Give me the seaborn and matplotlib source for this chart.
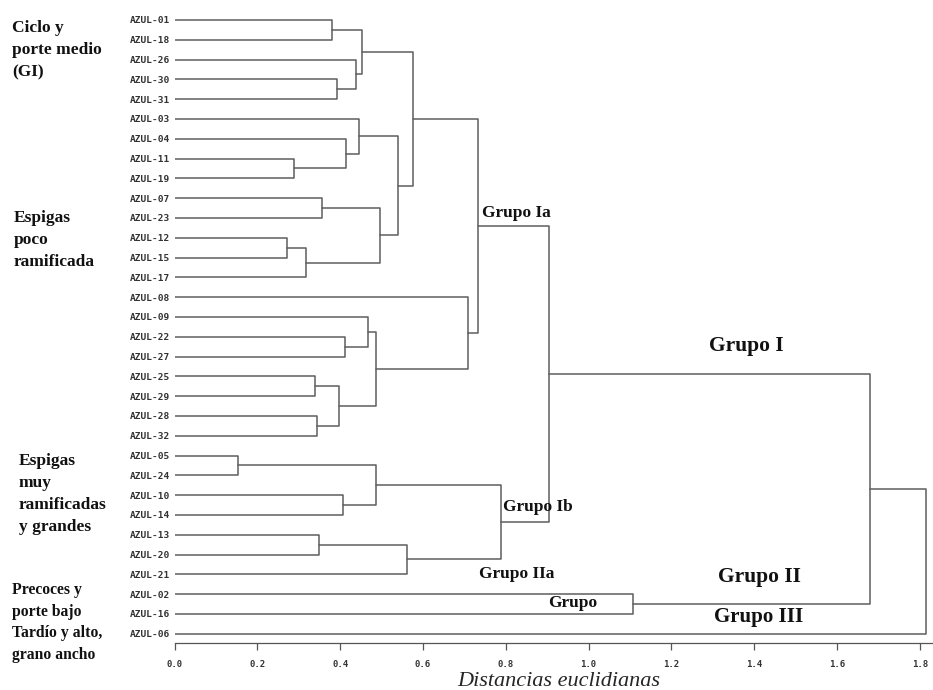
import matplotlib
matplotlib.use("Agg")
import matplotlib.pyplot as plt
import seaborn as sns
import pandas as pd

# ---- data ----
leaf_labels = ["AZUL-01", "AZUL-18", "AZUL-26", "AZUL-30", "AZUL-31", "AZUL-03",
               "AZUL-04", "AZUL-11", "AZUL-19", "AZUL-07", "AZUL-23", "AZUL-12",
               "AZUL-15", "AZUL-17", "AZUL-08", "AZUL-09", "AZUL-22", "AZUL-27",
               "AZUL-25", "AZUL-29", "AZUL-28", "AZUL-32", "AZUL-05", "AZUL-24",
               "AZUL-10", "AZUL-14", "AZUL-13", "AZUL-20", "AZUL-21", "AZUL-02",
               "AZUL-16", "AZUL-06"]
# merges: children ids (0..31 leaves in display order, 32+ = previous merges)
merge_left = [22, 11, 7, 33, 18, 20, 26, 9, 0, 3, 36, 24, 16, 6, 2, 5,
              40, 15, 49, 32, 39, 47, 38, 48, 14, 55, 51, 57, 29, 59, 61]
merge_right = [23, 12, 8, 13, 19, 21, 27, 10, 1, 4, 37, 25, 17, 34, 41, 45,
               46, 44, 42, 43, 35, 52, 28, 53, 50, 56, 54, 58, 30, 60, 31]
merge_height = [0.154, 0.271, 0.289, 0.317, 0.339, 0.345, 0.350, 0.357, 0.380,
                0.392, 0.397, 0.406, 0.412, 0.414, 0.438, 0.446, 0.454, 0.468,
                0.487, 0.487, 0.496, 0.541, 0.562, 0.577, 0.710, 0.734, 0.788,
                0.905, 1.107, 1.680, 1.815]
x_ticks = [0.0, 0.2, 0.4, 0.6, 0.8, 1.0, 1.2, 1.4, 1.6, 1.8]

group_labels = ["Grupo Ia", "Grupo I", "Grupo Ib", "Grupo IIa", "Grupo II", "Grupo", "Grupo III"]
group_x = [0.825, 1.380, 0.878, 0.827, 1.412, 0.963, 1.412]
group_y = [9.75, 16.45, 24.6, 28.0, 28.15, 29.44, 30.15]
group_size = [12.5, 15.5, 12.5, 12.5, 15.5, 12.5, 15]

side_labels = ["Ciclo y\nporte medio\n(GI)", "Espigas\npoco\nramificada",
               "Espigas\nmuy\nramificadas\ny grandes", "Precoces y\nporte bajo",
               "Tardío y alto,\ngrano ancho"]
side_px_x = [12, 14, 19, 12, 12]
side_px_y = [50, 240, 494, 601, 644]
side_size = [12.5, 12.5, 12.5, 11.3, 11.3]
side_spacing = [1.5, 1.5, 1.5, 1.45, 1.45]

# ---- build dendrogram segments ----
n = len(leaf_labels)
node_x = {i: 0.0 for i in range(n)}
node_y = {i: float(i) for i in range(n)}
rows = []
for k, (a, b, h) in enumerate(zip(merge_left, merge_right, merge_height)):
    pts = [(node_x[a], node_y[a]), (h, node_y[a]), (h, node_y[b]), (node_x[b], node_y[b])]
    for j, (px, py) in enumerate(pts):
        rows.append({"seg": k, "order": j, "x": px, "y": py})
    node_x[n + k] = h
    node_y[n + k] = (node_y[a] + node_y[b]) / 2.0
seg_df = pd.DataFrame(rows)

# ---- plot ----
sns.set_style("white")
W, H = 933, 690
fig = plt.figure(figsize=(W / 100, H / 100), dpi=100)
ax_left, ax_right = 174.5, 933
ax_top, ax_bottom = 0.2, 643
ax = fig.add_axes([ax_left / W, 1 - ax_bottom / H, (ax_right - ax_left) / W, (ax_bottom - ax_top) / H])

sns.lineplot(data=seg_df, x="x", y="y", units="seg", estimator=None, sort=False,
             color="#5e5e5e", linewidth=1.1, ax=ax, legend=False)

ax.set_xlim(0, (ax_right - ax_left) / 414.0)
ax.set_ylim(31.47, -1.0)
ax.set_yticks(range(n))
ax.set_yticklabels(leaf_labels, fontfamily="DejaVu Sans Mono", fontweight="bold",
                   fontsize=6.8, color="#333333")
ax.tick_params(axis="y", length=0, pad=3.5)
ax.set_xticks(x_ticks)
ax.set_xticklabels([f"{t:.1f}" for t in x_ticks], fontfamily="DejaVu Sans Mono",
                   fontweight="bold", fontsize=6.5, color="#333333")
ax.tick_params(axis="x", direction="out", length=5, width=0.9, color="#555555",
               pad=7, bottom=True)
for s in ["top", "right", "left"]:
    ax.spines[s].set_visible(False)
ax.spines["bottom"].set_color("#555555")
ax.spines["bottom"].set_linewidth(0.9)
ax.set_ylabel("")
ax.set_xlabel("Distancias euclidianas", fontfamily="Liberation Serif", fontstyle="italic",
              fontsize=16, labelpad=0)
ax.xaxis.label.set_va("baseline")
ax.xaxis.set_label_coords(0.506, -(686 - ax_bottom) / (ax_bottom - ax_top))

for lab, gx, gy, gs in zip(group_labels, group_x, group_y, group_size):
    ax.text(gx, gy, lab, ha="center", va="center", fontfamily="Liberation Serif",
            fontweight="bold", fontsize=gs, color="#111111")

for lab, sx, sy, ss, sp in zip(side_labels, side_px_x, side_px_y, side_size, side_spacing):
    fig.text(sx / W, 1 - sy / H, lab, ha="left", va="center", fontfamily="Liberation Serif",
             fontweight="bold", fontsize=ss, linespacing=sp, color="#111111")

fig.savefig("out.png", dpi=100)
